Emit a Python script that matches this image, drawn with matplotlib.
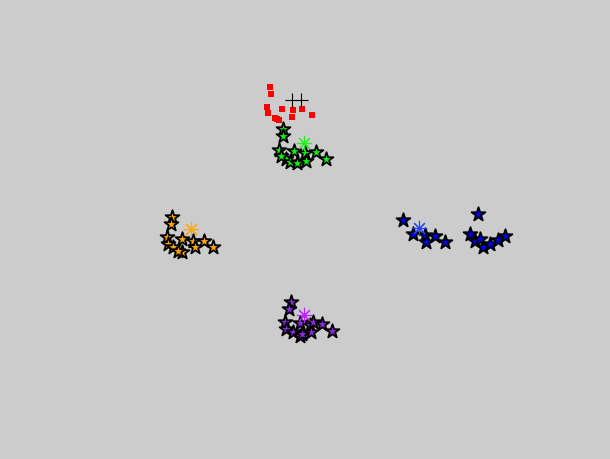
import matplotlib
matplotlib.use("Agg")
import matplotlib.pyplot as plt

# cluster members (x, y in plot units)
green_x = [283, 283, 279, 286, 290, 294, 297, 305, 306, 316, 326, 281]
green_y = [130, 137, 151, 160, 163, 152, 164, 154, 162, 153, 160, 157]
orange_x = [172, 171, 167, 168, 173, 182, 182, 178, 193, 195, 204, 213]
orange_y = [218, 225, 238, 245, 248, 240, 253, 252, 242, 248, 242, 248]
blue_x = [403, 413, 425, 426, 435, 445, 478, 470, 475, 480, 483, 490, 498, 505]
blue_y = [221, 235, 236, 243, 237, 243, 215, 235, 242, 240, 248, 245, 241, 237]
purple_x = [291, 289, 285, 286, 293, 300, 300, 310, 311, 313, 322, 332, 302]
purple_y = [303, 310, 323, 330, 333, 337, 324, 326, 333, 323, 325, 332, 335]

# small red points
red_x = [270, 271, 267, 268, 277, 282, 293, 302, 292, 312, 279, 275]
red_y = [88, 95, 108, 114, 120, 110, 111, 110, 118, 116, 121, 119]

# black crosses
cross_x = [292, 301]
cross_y = [101, 101]

# centroids
cent_x = [304, 191, 419, 304]
cent_y = [144, 230, 229, 316]
cent_colors = ['#22ee22', '#ffa500', '#2244ff', '#bb22ff']

clusters = [
    (green_x, green_y, '#11ee11'),
    (orange_x, orange_y, '#ffa500'),
    (blue_x, blue_y, '#0000ee'),
    (purple_x, purple_y, '#8a2be2'),
]

fig = plt.figure(figsize=(6.1, 4.6), dpi=100, facecolor='#cccccc')
ax = fig.add_axes([0, 0, 1, 1])
ax.set_facecolor('#cccccc')

for xs, ys, c in clusters:
    ax.scatter(xs, ys, marker='*', s=110, c=c, edgecolors='black', linewidths=1.3, zorder=2)

ax.scatter(red_x, red_y, marker='s', s=22, c='red', linewidths=0, zorder=2)
ax.scatter(cross_x, cross_y, marker='+', s=110, c='black', linewidths=0.8, zorder=3)

for x, y, c in zip(cent_x, cent_y, cent_colors):
    ax.plot(x, y, marker=(8, 2, 0), ms=11, mew=0.8, color=c, zorder=4)

ax.set_xlim(0, 610)
ax.set_ylim(460, 0)
ax.axis('off')

fig.savefig('out.png', dpi=100, facecolor='#cccccc')
